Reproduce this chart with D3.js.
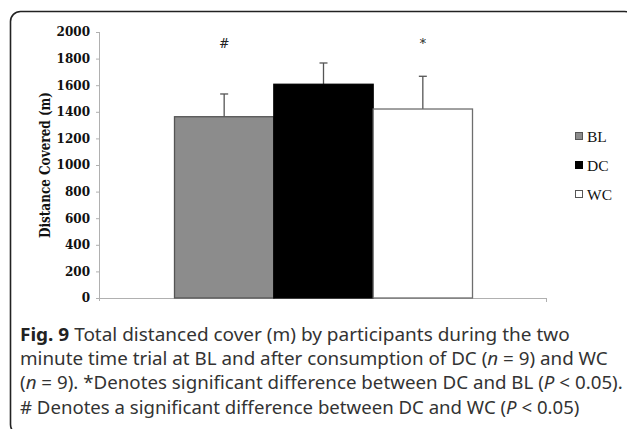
<!DOCTYPE html>
<html>
<head>
<meta charset="utf-8">
<script src="https://d3js.org/d3.v7.min.js"></script>
<style>
  body { margin: 0; background: #fff; }
  svg { display: block; }
</style>
</head>
<body>
<div id="chart"></div>
<script>
"use strict";

// values
var groups = ["Total"];
var series = ["BL", "DC", "WC"];
var means = [1363, 1607, 1421];
var errors = [171, 160, 246];
var fills = ["#8c8c8c", "#000000", "#ffffff"];
var strokes = ["#555555", "#000000", "#6e6e6e"];
var yTicks = [0, 200, 400, 600, 800, 1000, 1200, 1400, 1600, 1800, 2000];
var marks = [{ series: "BL", text: "#", level: 1880 }, { series: "WC", text: "*", level: 1880 }];
var captionLines = [
    [{ t: "Fig. 9", b: true }, { t: " Total distanced cover (m) by participants during the two" }],
    [{ t: "minute time trial at BL and after consumption of DC (" }, { t: "n", i: true }, { t: " = 9) and WC" }],
    [{ t: "(" }, { t: "n", i: true }, { t: " = 9). *Denotes significant difference between DC and BL (" }, { t: "P", i: true }, { t: " < 0.05)." }],
    [{ t: "# Denotes a significant difference between DC and WC (" }, { t: "P", i: true }, { t: " < 0.05)" }]
];
var captionEnds = [570, 608, 623, 580];

var W = 627, H = 429;
var plot = { left: 100, right: 547, top: 32, bottom: 298 };

var svg = d3.select("#chart").append("svg")
    .attr("width", W)
    .attr("height", H);

// frame
svg.append("rect")
    .attr("x", 10.5).attr("y", 11.5)
    .attr("width", 624).attr("height", 423)
    .attr("rx", 10).attr("ry", 10)
    .attr("fill", "none")
    .attr("stroke", "#222")
    .attr("stroke-width", 1.6);

var y = d3.scaleLinear().domain([0, 2000]).range([plot.bottom, plot.top]);
var x0 = d3.scaleBand().domain(groups).range([plot.left, plot.right]).paddingOuter(0.25).paddingInner(0);
var x1 = d3.scaleBand().domain(series).range([0, x0.bandwidth()]);

var serif = "'DejaVu Serif', 'Liberation Serif', serif";

// y axis
var yAxis = svg.append("g")
    .attr("transform", "translate(" + plot.left + ",0)")
    .call(d3.axisLeft(y).tickValues(yTicks).tickSize(4).tickPadding(6).tickFormat(d3.format("d")));
yAxis.select(".domain").attr("stroke", "#b0b0b0").attr("d", "M-0.5," + plot.top + "V" + (plot.bottom + 3));
yAxis.selectAll(".tick line").attr("stroke", "#b0b0b0");
yAxis.selectAll(".tick text")
    .attr("fill", "#111")
    .style("font-family", serif)
    .style("font-weight", "bold")
    .style("font-size", "12px");

// x axis (category axis, no labels)
var xAxis = svg.append("g");
xAxis.append("line")
    .attr("x1", plot.left - 4).attr("x2", plot.right)
    .attr("y1", y(0) + 0.5).attr("y2", y(0) + 0.5)
    .attr("stroke", "#b0b0b0");
xAxis.append("line")
    .attr("x1", plot.right - 0.5).attr("x2", plot.right - 0.5)
    .attr("y1", y(0)).attr("y2", y(0) + 4)
    .attr("stroke", "#b0b0b0");

// axis title
svg.append("text")
    .attr("transform", "translate(50," + ((plot.top + plot.bottom) / 2) + ") rotate(-90)")
    .attr("text-anchor", "middle")
    .attr("fill", "#111")
    .attr("textLength", 146)
    .attr("lengthAdjust", "spacingAndGlyphs")
    .style("font-family", serif)
    .style("font-weight", "bold")
    .style("font-size", "14.5px")
    .text("Distance Covered (m)");

// bars
var barData = series.map(function (s, i) {
    return { s: s, v: means[i], e: errors[i], fill: fills[i], stroke: strokes[i] };
});

var g = svg.append("g").attr("transform", "translate(" + x0("Total") + ",0)");

g.selectAll("line.err")
    .data(barData)
    .join("line")
    .attr("class", "err")
    .attr("x1", function (d) { return x1(d.s) + x1.bandwidth() / 2; })
    .attr("x2", function (d) { return x1(d.s) + x1.bandwidth() / 2; })
    .attr("y1", function (d) { return y(d.v); })
    .attr("y2", function (d) { return y(d.v + d.e); })
    .attr("stroke", "#555")
    .attr("stroke-width", 1.3);

g.selectAll("line.cap")
    .data(barData)
    .join("line")
    .attr("class", "cap")
    .attr("x1", function (d) { return x1(d.s) + x1.bandwidth() / 2 - 4; })
    .attr("x2", function (d) { return x1(d.s) + x1.bandwidth() / 2 + 4; })
    .attr("y1", function (d) { return y(d.v + d.e); })
    .attr("y2", function (d) { return y(d.v + d.e); })
    .attr("stroke", "#555")
    .attr("stroke-width", 1.3);

g.selectAll("rect.bar")
    .data(barData)
    .join("rect")
    .attr("class", "bar")
    .attr("x", function (d) { return x1(d.s); })
    .attr("y", function (d) { return y(d.v); })
    .attr("width", x1.bandwidth())
    .attr("height", function (d) { return y(0) - y(d.v); })
    .attr("fill", function (d) { return d.fill; })
    .attr("stroke", function (d) { return d.stroke; })
    .attr("stroke-width", 1.3);

// significance marks
g.selectAll("text.mark")
    .data(marks)
    .join("text")
    .attr("class", "mark")
    .attr("x", function (d) { return x1(d.series) + x1.bandwidth() / 2; })
    .attr("y", function (d) { return y(d.level); })
    .attr("text-anchor", "middle")
    .attr("fill", "#222")
    .style("font-family", serif)
    .style("font-size", "12.5px")
    .text(function (d) { return d.text; });

// legend
var legend = svg.append("g").attr("transform", "translate(575,136)");
var li = legend.selectAll("g")
    .data(barData)
    .join("g")
    .attr("transform", function (d, i) { return "translate(0," + (i * 29) + ")"; });
li.append("rect")
    .attr("x", 0.5).attr("y", -3.5)
    .attr("width", 7).attr("height", 7)
    .attr("fill", function (d) { return d.fill; })
    .attr("stroke", function (d) { return d.s === "DC" ? "#000" : "#555"; });
li.append("text")
    .attr("x", 12)
    .attr("y", 5.5)
    .attr("fill", "#111")
    .style("font-family", "'Liberation Serif', serif")
    .style("font-size", "15.5px")
    .text(function (d) { return d.s; });

// caption
var caption = svg.append("g");
captionLines.forEach(function (parts, i) {
    var t = caption.append("text")
        .attr("fill", "#333")
        .style("font-family", "'Noto Sans', 'Open Sans', sans-serif")
        .style("font-size", "17.5px");
    parts.forEach(function (p) {
        t.append("tspan")
            .attr("font-weight", p.b ? "bold" : null)
            .attr("font-style", p.i ? "italic" : null)
            .attr("fill", p.b ? "#222" : null)
            .text(p.t);
    });
    var w = t.node().getBBox().width;
    var sx = (captionEnds[i] - 20) / w;
    t.attr("transform", "translate(20," + (341 + i * 24.2) + ") scale(" + sx + ",1)");
});
</script>
</body>
</html>
